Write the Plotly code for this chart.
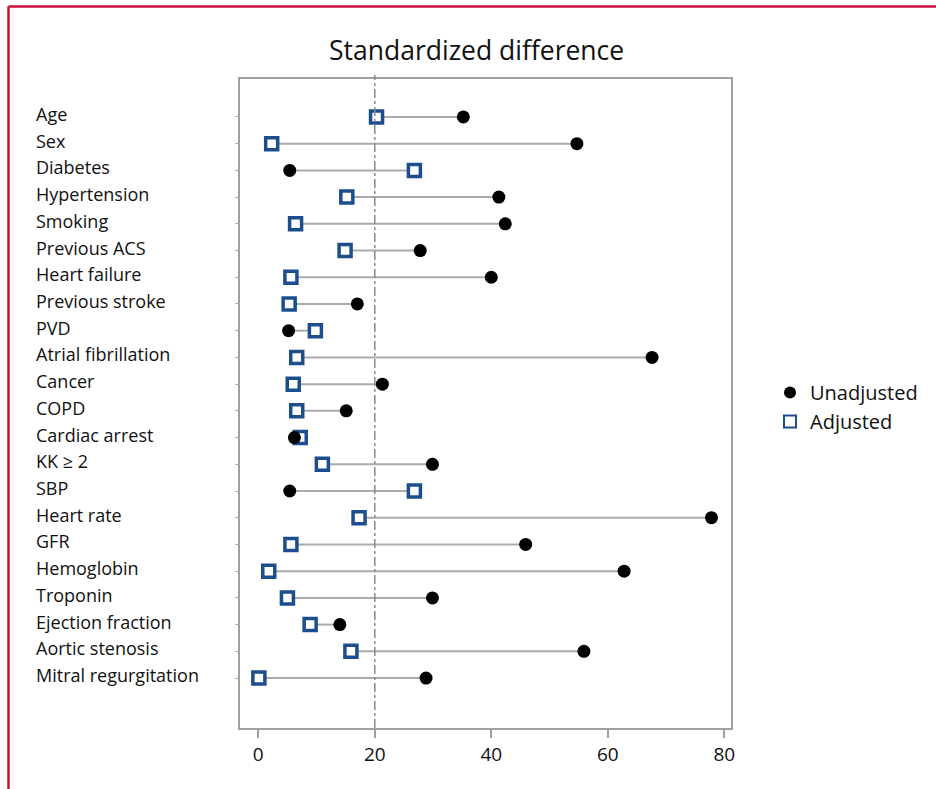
import plotly.graph_objects as go

# Covariates, top to bottom
variables = [
    "Age", "Sex", "Diabetes", "Hypertension", "Smoking", "Previous ACS",
    "Heart failure", "Previous stroke", "PVD", "Atrial fibrillation", "Cancer",
    "COPD", "Cardiac arrest", "KK \u2265 2", "SBP", "Heart rate", "GFR",
    "Hemoglobin", "Troponin", "Ejection fraction", "Aortic stenosis",
    "Mitral regurgitation",
]
unadjusted = [35.2, 54.7, 5.4, 41.3, 42.4, 27.8, 40.0, 17.0, 5.2, 67.6, 21.3,
              15.1, 6.2, 29.9, 5.4, 77.8, 45.9, 62.8, 29.9, 14.0, 55.9, 28.8]
adjusted = [20.3, 2.3, 26.8, 15.2, 6.4, 14.9, 5.6, 5.3, 9.8, 6.6, 6.0,
            6.6, 7.2, 11.0, 26.8, 17.3, 5.6, 1.8, 5.0, 8.9, 15.9, 0.1]
x_ticks = [0, 20, 40, 60, 80]
threshold = 20

W, H = 936, 789
ML, MR, MT, MB = 240, 205, 79, 61
PW, PH = W - ML - MR, H - MT - MB

def px_x(p):
    return (p - ML) / PW

def px_y(p):
    return (H - MB - p) / PH

rows = list(range(len(variables)))
FONT = "Open Sans"

# connector segments between the two estimates
seg_x, seg_y = [], []
for i, (u, a) in enumerate(zip(unadjusted, adjusted)):
    seg_x += [u, a, None]
    seg_y += [i, i, None]

fig = go.Figure()
fig.add_trace(go.Scatter(
    x=seg_x, y=seg_y, mode="lines",
    line=dict(color="#ababab", width=2),
    showlegend=False, hoverinfo="skip",
))
fig.add_trace(go.Scatter(
    x=adjusted, y=rows, mode="markers", name="Adjusted",
    marker=dict(symbol="square", size=12, color="white",
                line=dict(color="#1c4e8e", width=3.5)),
))
fig.add_trace(go.Scatter(
    x=unadjusted, y=rows, mode="markers", name="Unadjusted",
    marker=dict(symbol="circle", size=13, color="black",
                line=dict(width=0)),
))

# reference line at 20
fig.add_shape(type="line", xref="x", yref="paper",
              x0=threshold, x1=threshold, y0=0, y1=1.006,
              line=dict(color="#8a8a8a", width=1.5, dash="dashdot"))

# variable names, left aligned
for i, name in enumerate(variables):
    fig.add_annotation(x=px_x(34), y=i, xref="paper", yref="y",
                       text=name, showarrow=False, xanchor="left",
                       yanchor="middle", yshift=3,
                       font=dict(family=FONT, size=18, color="#111111"))

# title
fig.add_annotation(x=px_x(476), y=px_y(50), xref="paper", yref="paper",
                   text="Standardized difference", showarrow=False,
                   xanchor="center", yanchor="middle",
                   font=dict(family=FONT, size=26.5, color="#111111"))

# page border
border = "#c8103c"
fig.add_shape(type="line", xref="paper", yref="paper",
              x0=px_x(8.5), x1=px_x(8.5), y0=px_y(6.5), y1=px_y(800),
              line=dict(color=border, width=2.5))
fig.add_shape(type="line", xref="paper", yref="paper",
              x0=px_x(8.5), x1=px_x(940), y0=px_y(6.5), y1=px_y(6.5),
              line=dict(color=border, width=2.5))

fig.update_layout(
    width=W, height=H,
    margin=dict(l=ML, r=MR, t=MT, b=MB),
    paper_bgcolor="white", plot_bgcolor="white",
    font=dict(family=FONT, color="#111111"),
    legend=dict(x=px_x(770), y=px_y(373), xanchor="left", yanchor="top",
                traceorder="reversed", font=dict(family=FONT, size=20),
                itemsizing="constant", tracegroupgap=0,
                bgcolor="rgba(0,0,0,0)"),
)
fig.update_xaxes(
    range=[-3.14, 81.15], tickvals=x_ticks,
    showgrid=False, zeroline=False,
    showline=True, linecolor="#a0a0a0", linewidth=1.5, mirror=True,
    ticks="outside", ticklen=8, tickwidth=1.5, tickcolor="#a0a0a0",
    tickfont=dict(family=FONT, size=19, color="#111111"),
)
fig.update_yaxes(
    range=[22.87, -1.42], tickvals=rows, ticktext=[""] * len(rows),
    showgrid=False, zeroline=False,
    showline=True, linecolor="#a0a0a0", linewidth=1.5, mirror=True,
    ticks="outside", ticklen=3, tickwidth=1, tickcolor="#b0b0b0",
)

fig.write_html("out.html")
